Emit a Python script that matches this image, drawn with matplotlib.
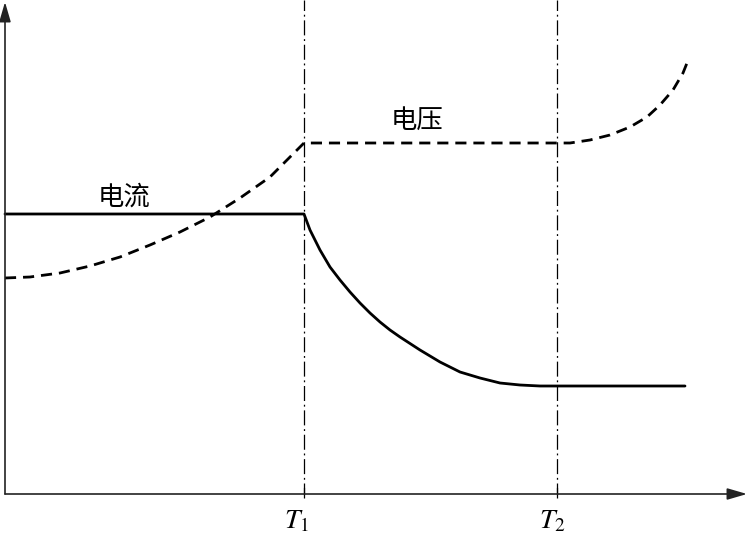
import matplotlib
matplotlib.use("Agg")
import matplotlib.pyplot as plt

plt.rcParams['font.family'] = ['Noto Sans CJK SC', 'DejaVu Sans']
plt.rcParams['mathtext.fontset'] = 'stix'

# coordinates (x to the right, y upward, origin at the axes corner)
t1 = 299
t2 = 552

current_x = [0, 299, 305, 315, 325, 335, 345, 355, 365, 375, 385, 395,
             415, 435, 455, 475, 495, 515, 535, 552, 680]
current_y = [280, 280, 264, 244, 227, 214, 202, 191, 181, 172, 164, 157,
             144, 132, 122, 116, 111, 109, 108, 108, 108]

voltage_x = [0, 25, 55, 85, 115, 145, 175, 205, 235, 265, 299,
             552, 565, 585, 605, 625, 642, 655, 668, 678, 684]
voltage_y = [216, 217, 221, 228, 237, 249, 262, 277, 296, 317, 351,
             351, 351, 354, 359, 367, 377, 389, 404, 421, 436]

labels = ["电流", "电压"]
tick_labels = ["$T_1$", "$T_2$"]

fig = plt.figure(figsize=(7.48, 5.34), dpi=100)
ax = fig.add_axes([0, 0, 1, 1])
ax.set_xlim(-5, 743)
ax.set_ylim(-40, 494)
ax.axis("off")

# axes with arrows
ax.annotate("", xy=(742, 0), xytext=(0, 0),
            arrowprops=dict(arrowstyle="-|>,head_length=1.2,head_width=0.35",
                            color="#222222", lw=1.2, shrinkA=0, shrinkB=0))
ax.annotate("", xy=(0, 492), xytext=(0, 0),
            arrowprops=dict(arrowstyle="-|>,head_length=1.2,head_width=0.35",
                            color="#222222", lw=1.2, shrinkA=0, shrinkB=0))

# time markers
for t in [t1, t2]:
    ax.plot([t, t], [-4, 494], color="black", lw=0.9, ls=(0, (12, 3, 1.5, 3)))
    ax.plot([t, t], [0, 6], color="black", lw=0.9)

ax.plot(current_x, current_y, color="black", lw=2.0,
        solid_joinstyle="round", solid_capstyle="round")
ax.plot(voltage_x, voltage_y, color="black", lw=2.0, ls=(0, (4, 2.5)))

ax.text(119, 297, labels[0], fontsize=19, ha="center", va="center")
ax.text(412, 374, labels[1], fontsize=19, ha="center", va="center")

ax.text(t1 - 7, -26, tick_labels[0], fontsize=20, ha="center", va="center")
ax.text(t2 - 5, -26, tick_labels[1], fontsize=20, ha="center", va="center")

fig.savefig("out.png", dpi=100)
